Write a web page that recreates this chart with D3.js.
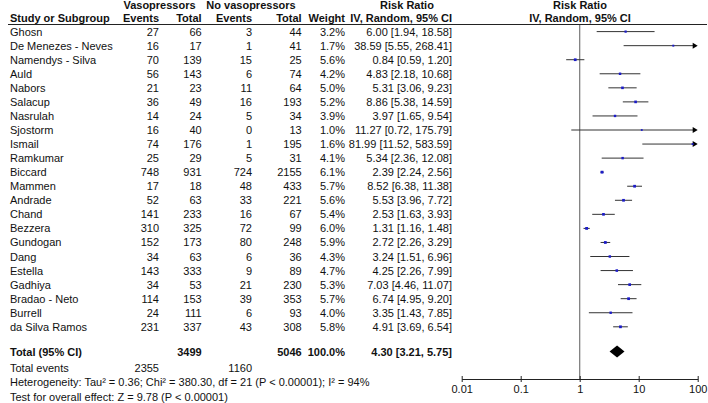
<!DOCTYPE html>
<html><head><meta charset="utf-8">
<script src="https://cdn.jsdelivr.net/npm/d3@7/dist/d3.min.js"></script>
<style>
body{margin:0;background:#fff;}
svg text{font-family:"Liberation Sans",Arial,sans-serif;font-size:11px;fill:#111;}
</style></head>
<body><svg id="c" width="708" height="403"></svg>
<script>
const studies = ["Ghosn","De Menezes - Neves","Namendys - Silva","Auld","Nabors","Salacup","Nasrulah","Sjostorm","Ismail","Ramkumar","Biccard","Mammen","Andrade","Chand","Bezzera","Gundogan","Dang","Estella","Gadhiya","Bradao - Neto","Burrell","da Silva Ramos"];
const vasoEvents = [27,16,70,56,21,36,14,16,74,25,748,17,52,141,310,152,34,143,34,114,24,231];
const vasoTotal = [66,17,139,143,23,49,24,40,176,29,931,18,63,233,325,173,63,333,53,153,111,337];
const noEvents = [3,1,15,6,11,16,5,0,1,5,724,48,33,16,72,80,6,9,21,39,6,43];
const noTotal = [44,41,25,74,64,193,34,13,195,31,2155,433,221,67,99,248,36,89,230,353,93,308];
const weights = [3.2,1.7,5.6,4.2,5.0,5.2,3.9,1.0,1.6,4.1,6.1,5.7,5.6,5.4,6.0,5.9,4.3,4.7,5.3,5.7,4.0,5.8];
const rr = [6.00,38.59,0.84,4.83,5.31,8.86,3.97,11.27,81.99,5.34,2.39,8.52,5.53,2.53,1.31,2.72,3.24,4.25,7.03,6.74,3.35,4.91];
const ciLow = [1.94,5.55,0.59,2.18,3.06,5.38,1.65,0.72,11.52,2.36,2.24,6.38,3.96,1.63,1.16,2.26,1.51,2.26,4.46,4.95,1.43,3.69];
const ciHigh = [18.58,268.41,1.20,10.68,9.23,14.59,9.54,175.79,583.59,12.08,2.56,11.38,7.72,3.93,1.48,3.29,6.96,7.99,11.07,9.20,7.85,6.54];
const total = {vasoEvents:2355, vasoTotal:3499, noEvents:1160, noTotal:5046, weight:"100.0%", rr:4.30, lo:3.21, hi:5.75};
const axisTicks = [0.01,0.1,1,10,100];
const tickLabels = ["0.01","0.1","1","10","100"];

const svg = d3.select("#c");
const x = d3.scaleLog().domain([0.01,100]).range([461.7,697.7]);
const y = d3.scaleLinear().domain([0,21]).range([31.6,326.8]);
const yTotal = 351.5, axisY = 379;

function t(g,xx,yy,s,anchor,bold){ return g.append("text").attr("x",xx).attr("y",yy).attr("text-anchor",anchor||"start").style("font-weight",bold?"bold":"normal").text(s); }
t(svg,159.5,9,"Vasopressors","middle",true);
t(svg,251,9,"No vasopressors","middle",true);
t(svg,407,9,"Risk Ratio","middle",true);
t(svg,580,9,"Risk Ratio","middle",true);
t(svg,10,22,"Study or Subgroup","start",true);
t(svg,159,22,"Events","end",true);
t(svg,201.7,22,"Total","end",true);
t(svg,252,22,"Events","end",true);
t(svg,301.7,22,"Total","end",true);
t(svg,345,22,"Weight","end",true);
t(svg,452,22,"IV, Random, 95% CI","end",true);
t(svg,580,22,"IV, Random, 95% CI","middle",true);
svg.append("line").attr("x1",8).attr("x2",707).attr("y1",24.5).attr("y2",24.5).attr("stroke","#222").attr("stroke-width",1);

svg.append("line").attr("x1",x(1)).attr("x2",x(1)).attr("y1",25).attr("y2",axisY).attr("stroke","#777").attr("stroke-width",1.2);

const f2 = d3.format(".2f");
const rows = svg.append("g").selectAll("g").data(studies).join("g")
  .attr("transform",(d,i)=>`translate(0,${y(i)})`);
rows.append("text").attr("x",10).attr("y",4).text(d=>d);
rows.append("text").attr("x",159).attr("y",4).attr("text-anchor","end").text((d,i)=>vasoEvents[i]);
rows.append("text").attr("x",201.7).attr("y",4).attr("text-anchor","end").text((d,i)=>vasoTotal[i]);
rows.append("text").attr("x",252).attr("y",4).attr("text-anchor","end").text((d,i)=>noEvents[i]);
rows.append("text").attr("x",301.7).attr("y",4).attr("text-anchor","end").text((d,i)=>noTotal[i]);
rows.append("text").attr("x",345).attr("y",4).attr("text-anchor","end").text((d,i)=>weights[i].toFixed(1)+"%");
rows.append("text").attr("x",452).attr("y",4).attr("text-anchor","end").text((d,i)=>`${f2(rr[i])} [${f2(ciLow[i])}, ${f2(ciHigh[i])}]`);

const clampLo = v => Math.max(v,0.01);
rows.append("line")
  .attr("x1",(d,i)=>x(clampLo(ciLow[i])))
  .attr("x2",(d,i)=>ciHigh[i]>100 ? x(100)-4 : x(ciHigh[i]))
  .attr("y1",0).attr("y2",0).attr("stroke","#333").attr("stroke-width",1);
rows.filter((d,i)=>ciHigh[i]>100).append("path")
  .attr("d",()=>{const xe=x(100);return `M${xe},0 L${xe-5},-3 L${xe-5},3 Z`;})
  .attr("fill","#000");
const side = w => 1.6 + 0.2*w;
rows.append("rect")
  .attr("x",(d,i)=>x(rr[i]) - side(weights[i])/2)
  .attr("y",(d,i)=>-side(weights[i])/2)
  .attr("width",(d,i)=>side(weights[i]))
  .attr("height",(d,i)=>side(weights[i]))
  .attr("fill","#1c1cc8");

const tg = svg.append("g").attr("transform",`translate(0,${yTotal})`);
t(tg,10,4,"Total (95% CI)","start",true);
t(tg,201.7,4,total.vasoTotal,"end",true);
t(tg,301.7,4,total.noTotal,"end",true);
t(tg,345,4,total.weight,"end",true);
t(tg,452,4,`${f2(total.rr)} [${f2(total.lo)}, ${f2(total.hi)}]`,"end",true);
tg.append("path").attr("d",`M${x(total.lo)},0 L${x(total.rr)},-6 L${x(total.hi)},0 L${x(total.rr)},6 Z`).attr("fill","#000");

t(svg,10,372,"Total events");
t(svg,159,372,total.vasoEvents,"end");
t(svg,252,372,total.noEvents,"end");
t(svg,10,386,"Heterogeneity: Tau² = 0.36; Chi² = 380.30, df = 21 (P < 0.00001); I² = 94%");
t(svg,10,400.5,"Test for overall effect: Z = 9.78 (P < 0.00001)");

const ax = svg.append("g").attr("transform",`translate(0,${axisY})`)
  .call(d3.axisBottom(x).tickValues(axisTicks).tickFormat((d,i)=>tickLabels[i]).tickSize(3).tickSizeOuter(0).tickPadding(3));
ax.select(".domain").attr("stroke","#222");
ax.selectAll(".tick line").attr("y1",-3).attr("y2",3).attr("stroke","#222");
ax.selectAll("text").attr("font-size",11).attr("fill","#111").style("font-family","Liberation Sans,Arial,sans-serif");
</script></body></html>
